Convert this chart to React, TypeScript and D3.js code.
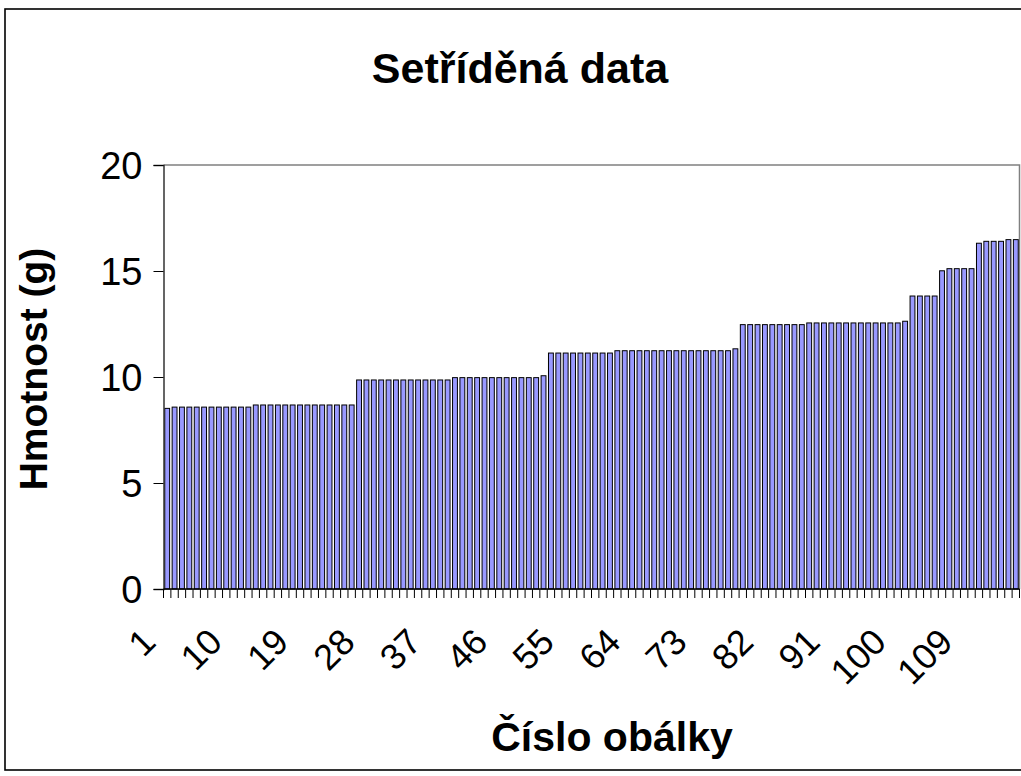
import React, { useRef, useEffect } from 'react';
import * as d3 from 'd3';

// Sorted envelope weights (g), envelope 1..116
const weights: number[] = [
    8.52,
    8.58, 8.58, 8.58, 8.58, 8.58, 8.58, 8.58, 8.58, 8.58, 8.58, 8.58,
    8.68, 8.68, 8.68, 8.68, 8.68, 8.68, 8.68, 8.68, 8.68, 8.68, 8.68, 8.68, 8.68, 8.68,
    9.86, 9.86, 9.86, 9.86, 9.86, 9.86, 9.86, 9.86, 9.86, 9.86, 9.86, 9.86, 9.86,
    9.97, 9.97, 9.97, 9.97, 9.97, 9.97, 9.97, 9.97, 9.97, 9.97, 9.97, 9.97,
    10.06,
    11.13, 11.13, 11.13, 11.13, 11.13, 11.13, 11.13, 11.13, 11.13,
    11.24, 11.24, 11.24, 11.24, 11.24, 11.24, 11.24, 11.24, 11.24, 11.24, 11.24, 11.24, 11.24, 11.24, 11.24, 11.24,
    11.33,
    12.47, 12.47, 12.47, 12.47, 12.47, 12.47, 12.47, 12.47, 12.47,
    12.55, 12.55, 12.55, 12.55, 12.55, 12.55, 12.55, 12.55, 12.55, 12.55, 12.55, 12.55, 12.55,
    12.63,
    13.82, 13.82, 13.82, 13.82,
    15.01,
    15.11, 15.11, 15.11, 15.11,
    16.31,
    16.4, 16.4, 16.4,
    16.48, 16.48,
];

// Category names (envelope numbers)
const envelopes: string[] = weights.map((_, i) => String(i + 1));

// Labels shown under the x axis
const xTickLabels: string[] = ['1', '10', '19', '28', '37', '46', '55', '64', '73', '82', '91', '100', '109'];

// Y axis ticks
const yTicks: number[] = [0, 5, 10, 15, 20];

const title = 'Setříděná data';
const xTitle = 'Číslo obálky';
const yTitle = 'Hmotnost (g)';

const App: React.FC = () => {
    const svgRef = useRef<SVGSVGElement | null>(null);

    useEffect(() => {
        if (!svgRef.current) return;
        const svg = d3.select(svgRef.current);
        svg.selectAll('*').remove();

        const width = 1021;
        const height = 776;
        const font = 'Arial, "Liberation Sans", sans-serif';
        const barColor = '#9999ff';

        // plot area
        const left = 163.5;
        const right = 1019.5;
        const top = 165;
        const bottom = 589;

        svg.append('rect')
            .attr('width', width)
            .attr('height', height)
            .attr('fill', 'white');

        // chart border
        svg.append('rect')
            .attr('x', 5)
            .attr('y', 9)
            .attr('width', 1060)
            .attr('height', 761)
            .attr('fill', 'none')
            .attr('stroke', 'black')
            .attr('stroke-width', 1.6);

        const x = d3
            .scaleBand<string>()
            .domain(envelopes)
            .range([left, right])
            .paddingInner(0.34)
            .paddingOuter(0.17);

        const y = d3.scaleLinear().domain([0, 20]).range([bottom, top]);

        // plot area border (top + right, grey)
        svg.append('path')
            .attr('d', `M${left},${top}H${right}V${bottom}`)
            .attr('fill', 'none')
            .attr('stroke', '#808080')
            .attr('stroke-width', 1.5);

        // bars
        svg.append('g')
            .selectAll('rect')
            .data(weights)
            .enter()
            .append('rect')
            .attr('x', (_, i) => x(envelopes[i])!)
            .attr('width', x.bandwidth())
            .attr('y', (d) => y(d))
            .attr('height', (d) => bottom - y(d))
            .attr('fill', barColor)
            .attr('stroke', 'black')
            .attr('stroke-width', 1);

        // y axis
        const yAxis = svg
            .append('g')
            .attr('transform', `translate(${left},0)`)
            .call(d3.axisLeft(y).tickValues(yTicks).tickSize(10).tickPadding(11).tickFormat(d3.format('d')));
        yAxis.select('.domain').attr('stroke', '#333').attr('stroke-width', 1.5);
        yAxis.selectAll('.tick line').attr('stroke', 'black');
        yAxis.selectAll('.tick text')
            .attr('font-family', font)
            .attr('font-size', 38)
            .attr('fill', 'black')
            .attr('dy', '0.36em');

        // x axis line
        svg.append('line')
            .attr('x1', left)
            .attr('x2', right)
            .attr('y1', bottom)
            .attr('y2', bottom)
            .attr('stroke', 'black')
            .attr('stroke-width', 1.5);

        // x ticks at category boundaries
        const step = x.step();
        const boundaries = d3.range(envelopes.length + 1).map((i) => left + i * step);
        svg.append('g')
            .selectAll('line')
            .data(boundaries)
            .enter()
            .append('line')
            .attr('x1', (d) => d)
            .attr('x2', (d) => d)
            .attr('y1', bottom)
            .attr('y2', bottom + 9)
            .attr('stroke', 'black')
            .attr('stroke-width', 1);

        // rotated x labels
        svg.append('g')
            .selectAll('text')
            .data(xTickLabels)
            .enter()
            .append('text')
            .attr('transform', (d) => {
                const cx = x(d)! + x.bandwidth() / 2 - 9.5;
                return `translate(${cx},644) rotate(-45)`;
            })
            .attr('text-anchor', 'end')
            .attr('font-family', font)
            .attr('font-size', 36)
            .attr('fill', 'black')
            .text((d) => d);

        // titles
        svg.append('text')
            .attr('x', 520)
            .attr('y', 83)
            .attr('text-anchor', 'middle')
            .attr('font-family', font)
            .attr('font-weight', 'bold')
            .attr('font-size', 43)
            .text(title);

        svg.append('text')
            .attr('x', 612)
            .attr('y', 751)
            .attr('text-anchor', 'middle')
            .attr('font-family', font)
            .attr('font-weight', 'bold')
            .attr('font-size', 41)
            .text(xTitle);

        svg.append('text')
            .attr('transform', 'translate(47,369) rotate(-90)')
            .attr('text-anchor', 'middle')
            .attr('font-family', font)
            .attr('font-weight', 'bold')
            .attr('font-size', 39)
            .text(yTitle);
    }, []);

    return (
        <div style={{ position: 'absolute', left: 0, top: 0 }}>
            <svg ref={svgRef} width={1021} height={776} style={{ display: 'block' }}></svg>
        </div>
    );
};

export default App;
